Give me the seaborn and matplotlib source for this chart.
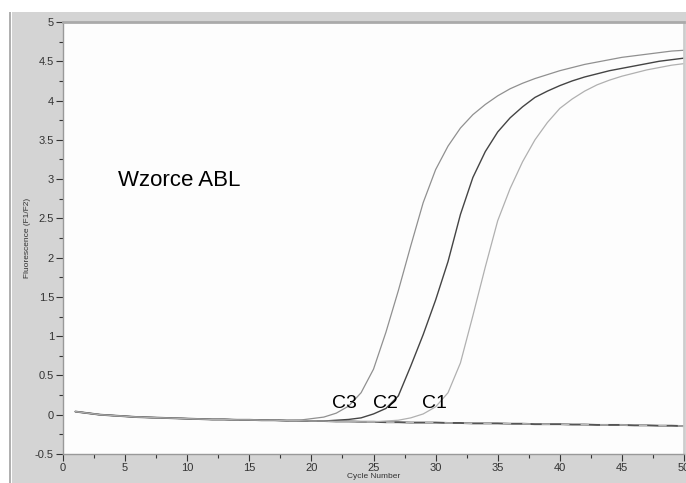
import matplotlib
matplotlib.use("Agg")
import matplotlib.pyplot as plt
import seaborn as sns
import numpy as np
import pandas as pd
from matplotlib.patches import Rectangle
from matplotlib.ticker import MultipleLocator

# ---- data ----
cycles = list(range(1, 51))
baseline = [0.04, 0.02, 0.00, -0.01, -0.02, -0.03, -0.035, -0.04, -0.045, -0.05,
            -0.055, -0.06, -0.06, -0.065, -0.065, -0.07, -0.07, -0.075, -0.075, -0.08,
            -0.08, -0.085, -0.085, -0.09, -0.09, -0.095, -0.095, -0.10, -0.10, -0.10,
            -0.105, -0.105, -0.11, -0.11, -0.11, -0.115, -0.115, -0.12, -0.12, -0.12,
            -0.125, -0.125, -0.13, -0.13, -0.13, -0.135, -0.135, -0.14, -0.14, -0.145]
c3 = [0.04, 0.02, 0.00, -0.01, -0.02, -0.03, -0.035, -0.04, -0.045, -0.05,
      -0.055, -0.06, -0.06, -0.065, -0.065, -0.07, -0.07, -0.072, -0.07, -0.05,
      -0.03, 0.02, 0.11, 0.28, 0.58, 1.05, 1.58, 2.15, 2.70, 3.12,
      3.42, 3.65, 3.82, 3.95, 4.06, 4.15, 4.22, 4.28, 4.33, 4.38,
      4.42, 4.46, 4.49, 4.52, 4.55, 4.57, 4.59, 4.61, 4.63, 4.64]
c2 = [0.04, 0.02, 0.00, -0.01, -0.02, -0.03, -0.035, -0.04, -0.045, -0.05,
      -0.055, -0.06, -0.06, -0.065, -0.065, -0.07, -0.07, -0.075, -0.075, -0.08,
      -0.08, -0.07, -0.06, -0.04, 0.01, 0.08, 0.24, 0.62, 1.02, 1.46,
      1.95, 2.55, 3.02, 3.35, 3.60, 3.78, 3.92, 4.04, 4.12, 4.19,
      4.25, 4.30, 4.34, 4.38, 4.41, 4.44, 4.47, 4.50, 4.52, 4.54]
c1 = [0.04, 0.02, 0.00, -0.01, -0.02, -0.03, -0.035, -0.04, -0.045, -0.05,
      -0.055, -0.06, -0.06, -0.065, -0.065, -0.07, -0.07, -0.075, -0.075, -0.08,
      -0.08, -0.085, -0.085, -0.09, -0.09, -0.08, -0.07, -0.04, 0.01, 0.10,
      0.28, 0.66, 1.26, 1.88, 2.47, 2.88, 3.22, 3.50, 3.72, 3.90,
      4.02, 4.12, 4.20, 4.26, 4.31, 4.35, 4.39, 4.42, 4.45, 4.47]
labels = ["C3", "C2", "C1"]
label_x = [22.7, 26.0, 29.9]
label_y = [0.14, 0.14, 0.14]
title_text = "Wzorce ABL"

sns.set_theme(style="ticks")
plt.rcParams['font.family'] = ['Liberation Sans', 'DejaVu Sans']

fig = plt.figure(figsize=(6.86, 4.83), dpi=100)
fig.patch.set_facecolor("white")
# grey panel
fig.patches.append(Rectangle((12/686, 0), 1 - 12/686, (483 - 12)/483,
                             transform=fig.transFigure, facecolor="#d4d4d4",
                             edgecolor="none", zorder=-2))
fig.patches.append(Rectangle((9/686, 0), 1.5/686, (483 - 12)/483,
                             transform=fig.transFigure, facecolor="#b0b0b0",
                             edgecolor="none", zorder=-2))

ax = fig.add_axes([63/686, 1 - 454/483, 621/686, (454 - 22)/483])
ax.set_zorder(2)
ax.set_facecolor("#fdfdfd")

df_base = pd.DataFrame({"cycle": cycles, "value": baseline})
sns.lineplot(data=df_base, x="cycle", y="value", ax=ax, color="#555555", lw=1.4)
sns.lineplot(data=df_base, x="cycle", y="value", ax=ax, color="#bbbbbb", lw=1.0,
             linestyle=(0, (6, 8)))
for vals, col, lw in [(c3, "#909090", 0.9), (c2, "#444444", 1.0), (c1, "#b0b0b0", 0.9)]:
    d = pd.DataFrame({"cycle": cycles, "value": vals})
    sns.lineplot(data=d, x="cycle", y="value", ax=ax, color=col, lw=lw)

for t, x, y in zip(labels, label_x, label_y):
    ax.text(x, y, t, fontsize=14, ha="center", va="center", color="black")
ax.text(4.4, 2.98, title_text, fontsize=16, ha="left", va="center", color="black")

ax.set_xlim(0, 50)
ax.set_ylim(-0.5, 5)
ax.xaxis.set_major_locator(MultipleLocator(5))
ax.xaxis.set_minor_locator(MultipleLocator(2.5))
ax.yaxis.set_major_locator(MultipleLocator(0.5))
ax.yaxis.set_minor_locator(MultipleLocator(0.25))
ax.set_yticks(np.arange(-0.5, 5.01, 0.5))
ax.set_yticklabels(["-0.5", "0", "0.5", "1", "1.5", "2", "2.5", "3", "3.5", "4", "4.5", "5"])
ax.tick_params(axis="both", which="major", length=5, width=0.8, labelsize=8,
               colors="#333333", pad=1.5)
ax.tick_params(axis="both", which="minor", length=3, width=0.8, colors="#333333")
ax.set_xlabel("Cycle Number", fontsize=6, color="#333333", labelpad=0)
ax.set_ylabel("Fluorescence (F1/F2)", fontsize=6, color="#333333", labelpad=3)
for s in ["left", "bottom"]:
    ax.spines[s].set_color("#999999")
    ax.spines[s].set_linewidth(1.0)
ax.spines["top"].set_visible(True)
ax.spines["right"].set_visible(True)
ax.spines["top"].set_color("#aaaaaa")
ax.spines["top"].set_linewidth(2.0)
ax.spines["right"].set_color("#cccccc")

fig.savefig("out.png", dpi=100, facecolor=fig.get_facecolor())
